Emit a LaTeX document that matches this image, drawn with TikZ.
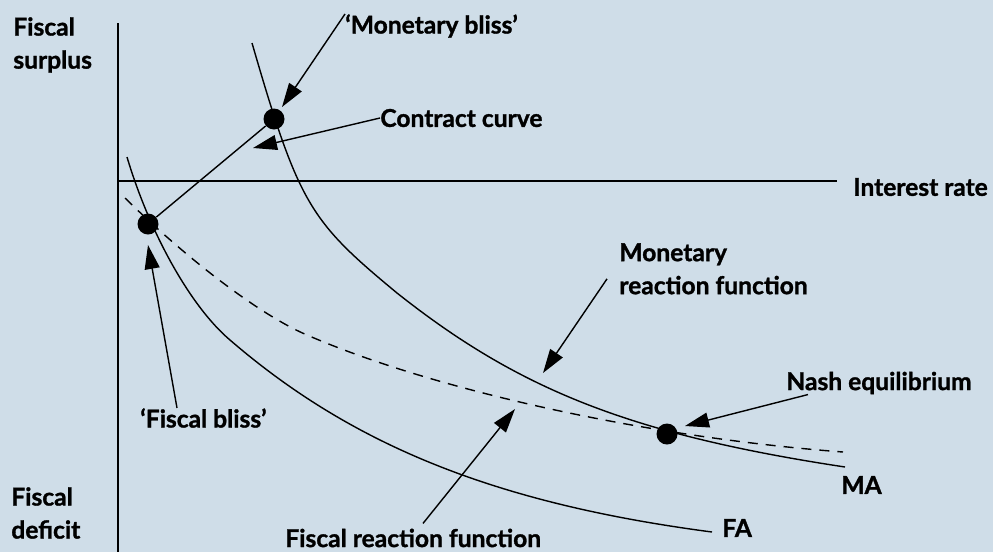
\documentclass[tikz,border=0pt]{standalone}
\usepackage{fontspec}
\setmainfont{Lato}[BoldFeatures={FakeBold=1.2}]
\usetikzlibrary{arrows.meta}
\definecolor{bgblue}{RGB}{207,221,232}
\tikzset{
  lbl/.style={font=\fontsize{14}{18.8}\selectfont\bfseries, inner sep=0pt, align=left},
  pointer/.style={line width=0.8pt, -{Triangle[length=0.48cm,width=0.3cm]}},
  curve/.style={line width=0.8pt},
  dot/.style={circle, fill=black, inner sep=0pt, minimum size=0.42cm}
}

\begin{document}
\begin{tikzpicture}[x=0.02cm, y=-0.02cm]
  \path[use as bounding box, fill=bgblue] (0,0) rectangle (993,552);
  %% Axes
  \draw[curve] (118,23) -- (118,552);
  \draw[curve] (118,181) -- (837,181);
  \node[lbl, anchor=west] (surplus) at (13,45) {Fiscal\\surplus};
  \node[lbl, anchor=west] (deficit) at (11,513) {Fiscal\\deficit};
  \node[lbl, anchor=west] (irate) at (853,187) {Interest rate};
  %% Reaction functions and indifference curves
  \draw[curve] (252,43) .. controls (299,205) and (310,221) .. (397,293)
    .. controls (517,388) and (627,434) .. (845,467);
  \draw[curve] (127,157) .. controls (150,234) and (191,307) .. (230,340)
    .. controls (354,447) and (499,504) .. (712,532);
  \draw[curve, dash pattern=on 0.2cm off 0.16cm] (125,198)
    .. controls (189,261) and (262,316) .. (307,335)
    .. controls (434,390) and (645,437) .. (843,452);
  \node[lbl, anchor=west] (ma) at (841,485) {MA};
  \node[lbl, anchor=west] (fa) at (722,528) {FA};
  %% Bliss points, contract curve and Nash point
  \node[dot] (mbliss) at (274,119) {};
  \node[dot] (fbliss) at (148,224) {};
  \node[dot] (nash) at (667,434) {};
  \draw[curve] (fbliss) -- (mbliss);
  %% Labels with pointers
  \node[lbl, anchor=west] (mblbl) at (345,26) {‘Monetary bliss’};
  \node[lbl, anchor=west] (cclbl) at (380,118) {Contract curve};
  \node[lbl, anchor=north west] (mrf) at (619,243) {Monetary\\reaction function};
  \node[lbl, anchor=west] (ne) at (786,383) {Nash equilibrium};
  \node[lbl, anchor=west] (fblbl) at (140,418) {‘Fiscal bliss’};
  \node[lbl, anchor=west] (frf) at (285,538) {Fiscal reaction function};
  \coordinate (mbtip) at (282,107);
  \coordinate (cctip) at (253,148);
  \coordinate (mrftip) at (543,373);
  \coordinate (netip) at (685,426);
  \coordinate (fbtip) at (148,245);
  \coordinate (frftip) at (515,409);
  \draw[pointer] (mblbl.north west) -- (mbtip);
  \draw[pointer] (cclbl.west) -- (cctip);
  \draw[pointer] ([shift={(-12,10)}]mrf.west) -- (mrftip);
  \draw[pointer] ([shift={(22,0)}]ne.south west) -- (netip);
  \draw[pointer] ([shift={(37,0)}]fblbl.north west) -- (fbtip);
  \draw[pointer] ([shift={(138,-5)}]frf.north west) -- (frftip);
\end{tikzpicture}
\end{document}
